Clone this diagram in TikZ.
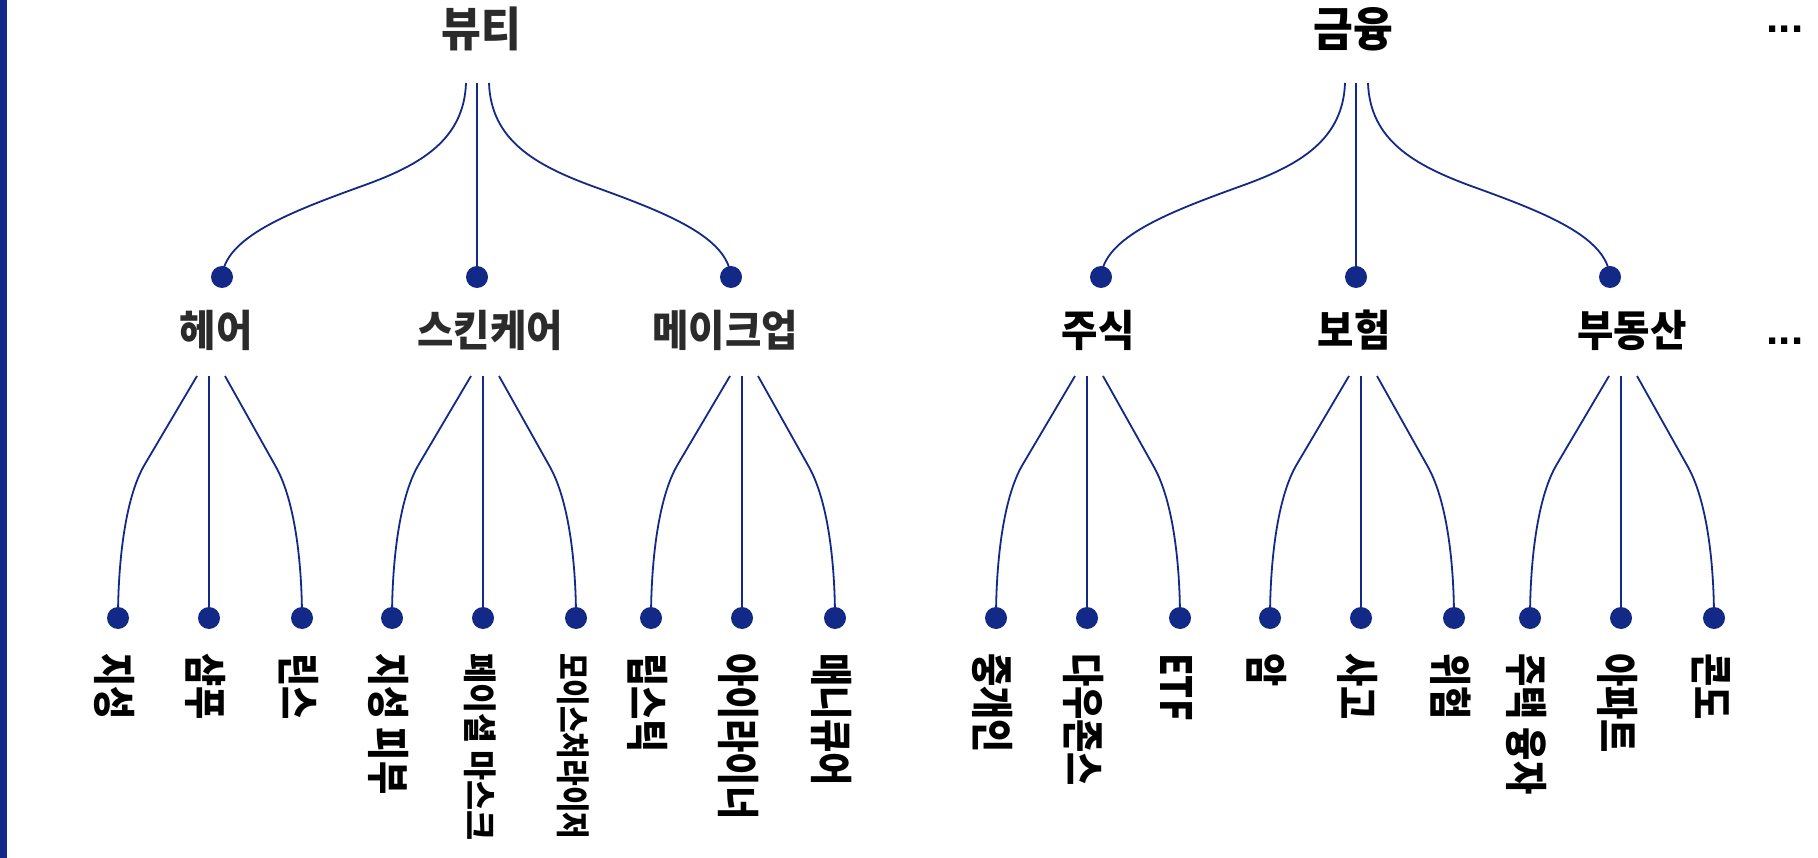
\documentclass[tikz,border=0pt]{standalone}
\usepackage{fontspec}
\newfontfamily\kr{Noto Sans CJK KR}[FakeStretch=0.92]
\newfontfamily\krl{Noto Sans CJK KR}[FakeStretch=0.84]
\newfontfamily\krs{Noto Sans CJK KR}[FakeStretch=0.96]
\newfontfamily\krt{Noto Sans CJK KR}[FakeStretch=0.85]
\newfontfamily\dotsfont{Liberation Sans}
\usetikzlibrary{calc}
\definecolor{navy}{RGB}{18,41,135}
\definecolor{inkgray}{RGB}{43,43,43}
\newcommand\bigsz{\fontsize{47}{51}\selectfont}
\newcommand\midsz{\fontsize{43}{47}\selectfont}
\newcommand\leafsz{\fontsize{43}{47}\selectfont}
\newcommand\smsz{\krs\bfseries\fontsize{34}{37}\selectfont}
\newcommand\smtsz{\krt\bfseries\fontsize{34}{37}\selectfont}
\tikzset{
  conn/.style={draw=navy, line width=1.8pt},
  dot/.style={circle, fill=navy, inner sep=0pt, minimum size=22pt},
  toplabel/.style={font=\kr\bfseries\bigsz, inner sep=0pt},
  midlabel/.style={font=\kr\bfseries\midsz, inner sep=0pt},
  leaf/.style={font=\krl\bfseries\leafsz, rotate=-90, anchor=west, inner sep=0pt, text=black},
  more/.style={font=\dotsfont\bfseries\fontsize{44}{48}\selectfont, inner sep=0pt, text=black},
}
% #1 id, #2 centre x, #3 #4 #5 leaf texts
\newcommand\kgroup[5]{%
  \coordinate (#1s1) at (#2-12,376);
  \coordinate (#1s2) at (#2,376);
  \coordinate (#1s3) at (#2+16,376);
  \coordinate (#1k1) at (#2-64,464);
  \coordinate (#1k3) at (#2+67,467);
  \node[dot] (#1d1) at (#2-91,618) {};
  \node[dot] (#1d2) at (#2,618) {};
  \node[dot] (#1d3) at (#2+93,618) {};
  \draw[conn] (#1s1) -- (#1k1) .. controls +(-21,35) and +(0,-50) .. (#1d1.center);
  \draw[conn] (#1s2) -- (#1d2.center);
  \draw[conn] (#1s3) -- (#1k3) .. controls +(20,36) and +(0,-50) .. (#1d3.center);
  \node[leaf] (#1t1) at ($(#1d1)+(-3,35)$) {#3};
  \node[leaf] (#1t2) at ($(#1d2)+(-3,35)$) {#4};
  \node[leaf] (#1t3) at ($(#1d3)+(-3,35)$) {#5};
}
% #1 id, #2 centre x
\newcommand\topgroup[2]{%
  \coordinate (#1s1) at (#2-11,83);
  \coordinate (#1s2) at (#2,83);
  \coordinate (#1s3) at (#2+12,83);
  \coordinate (#1m1) at (#2-112,185);
  \coordinate (#1m3) at (#2+115,186);
  \node[dot] (#1d1) at (#2-255,277) {};
  \node[dot] (#1d2) at (#2,277) {};
  \node[dot] (#1d3) at (#2+254,277) {};
  \draw[conn] (#1s1) .. controls +(-2,57) and +(55,-20) .. (#1m1)
     .. controls +(-75,27) and +(3,-40) .. (#1d1.center);
  \draw[conn] (#1s2) -- (#1d2.center);
  \draw[conn] (#1s3) .. controls +(2,57) and +(-57,-21) .. (#1m3)
     .. controls +(75,27) and +(-3,-40) .. (#1d3.center);
}
\begin{document}
\begin{tikzpicture}[x=1pt,y=-1pt]
  \path[use as bounding box, fill=white] (0,0) rectangle (1818,858);
  \fill[navy] (0,0) rectangle (7,858);

  % top level
  \node[toplabel, text=inkgray] (beauty) at (481,29) {뷰티};
  \node[toplabel, text=black] (finance) at (1353,29) {금융};
  \node[more] (moretop) at (1785,29) {...};

  \topgroup{B}{477}
  \topgroup{F}{1356}

  % second level
  \node[midlabel, text=inkgray] (hair) at (216,330) {헤어};
  \node[midlabel, text=inkgray] (skin) at (490,330) {스킨케어};
  \node[midlabel, text=inkgray] (makeup) at (725,330) {메이크업};
  \node[midlabel, text=black] (stock) at (1098,330) {주식};
  \node[midlabel, text=black] (insur) at (1354,330) {보험};
  \node[midlabel, text=black] (estate) at (1632,330) {부동산};
  \node[more] (moremid) at (1785,341) {...};

  \kgroup{H}{209}{지성}{샴푸}{린스}
  \kgroup{S}{483}{지성 피부}{\smsz 페이셜 마스크}{\smtsz 모이스처라이저}
  \kgroup{M}{742}{립스틱}{아이라이너}{매니큐어}
  \kgroup{K}{1087}{중개인}{다우존스}{ETF}
  \kgroup{I}{1361}{암}{사고}{위험}
  \kgroup{R}{1621}{주택 융자}{아파트}{콘도}
\end{tikzpicture}
\end{document}
